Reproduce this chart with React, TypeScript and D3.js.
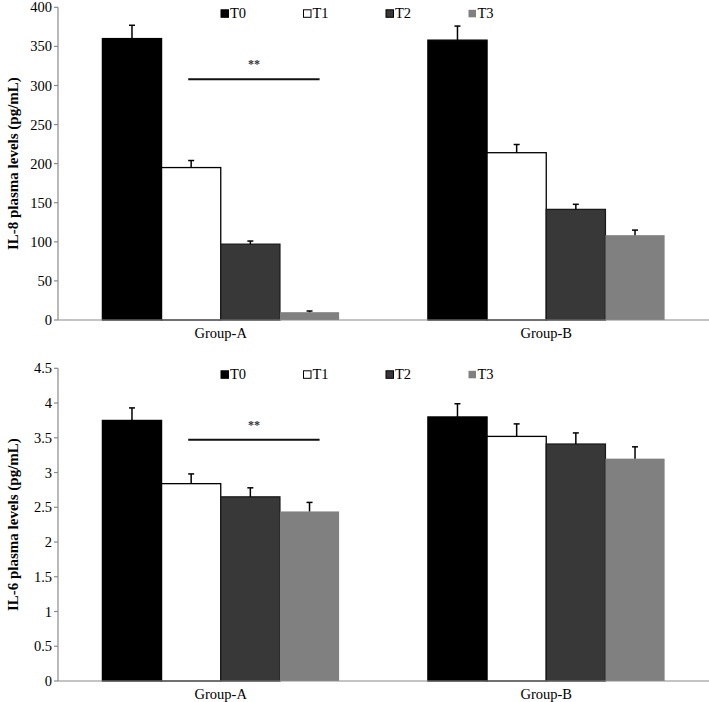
import React from "react";
import * as d3 from "d3";

const groups = ["Group-A", "Group-B"];
const series = ["T0", "T1", "T2", "T3"];

// IL-8 panel
const il8Means = [
  [360, 195, 97, 10],
  [358, 214, 141.5, 108.5],
];
const il8ErrTop = [
  [377, 204, 101, 11.5],
  [376, 224.5, 148, 115],
];
const il8Ticks = [0, 50, 100, 150, 200, 250, 300, 350, 400];

// IL-6 panel
const il6Means = [
  [3.75, 2.84, 2.65, 2.44],
  [3.8, 3.52, 3.41, 3.2],
];
const il6ErrTop = [
  [3.93, 2.98, 2.78, 2.57],
  [3.99, 3.7, 3.57, 3.37],
];
const il6Ticks = [0, 0.5, 1, 1.5, 2, 2.5, 3, 3.5, 4, 4.5];

const fills = ["#000000", "#ffffff", "#383838", "#808080"];
const strokes = ["#000000", "#000000", "#1a1a1a", "none"];

const FONT = '"Liberation Serif", Tinos, "Times New Roman", Times, "DejaVu Serif", serif';
const fontStyle = { fontFamily: FONT };

type PanelProps = {
  top: number;
  bottom: number;
  max: number;
  ticks: number[];
  means: number[][];
  errTop: number[][];
  title: string;
  sigFrom: [number, number];
  sigTo: [number, number];
  sigValue: number;
};

function Panel({ top, bottom, max, ticks, means, errTop, title, sigFrom, sigTo, sigValue }: PanelProps) {
  const x0 = d3.scaleBand<string>().domain(groups).range([58, 709]).padding(0);
  const x1 = d3
    .scaleBand<string>()
    .domain(series)
    .range([0, x0.bandwidth()])
    .paddingInner(0)
    .paddingOuter(0.75);
  const y = d3.scaleLinear().domain([0, max]).range([bottom, top]);
  const bw = x1.bandwidth();
  const axisX = 58;

  const sigX1 = (x0(groups[sigFrom[0]]) ?? 0) + (x1(series[sigFrom[1]]) ?? 0) + bw * 0.45;
  const sigX2 = (x0(groups[sigTo[0]]) ?? 0) + (x1(series[sigTo[1]]) ?? 0) + bw * 0.67;
  const sigY = y(sigValue);

  const legendY = top + 6;
  const legendX0 = 221;
  const legendStep = 82.5;

  return (
    <g style={fontStyle}>
      {groups.map((g, gi) =>
        series.map((s, si) => {
          const bx = (x0(g) ?? 0) + (x1(s) ?? 0);
          const by = y(means[gi][si]);
          return (
            <rect
              key={g + s}
              x={bx}
              y={by}
              width={bw}
              height={y(0) - by}
              fill={fills[si]}
              stroke={strokes[si]}
              strokeWidth={strokes[si] === "none" ? 0 : 1.3}
            />
          );
        })
      )}
      {groups.map((g, gi) =>
        series.map((s, si) => {
          const cx = (x0(g) ?? 0) + (x1(s) ?? 0) + bw / 2;
          const y1 = y(means[gi][si]);
          const y2 = y(errTop[gi][si]);
          return (
            <g key={"e" + g + s} stroke="#000" strokeWidth={1.5}>
              <line x1={cx} x2={cx} y1={y1} y2={y2} />
              <line x1={cx - 3} x2={cx + 3} y1={y2} y2={y2} />
            </g>
          );
        })
      )}
      <line x1={axisX} x2={709} y1={y(0)} y2={y(0)} stroke="#8a8a8a" strokeWidth={1.2} />
      <line x1={axisX} x2={axisX} y1={y(max)} y2={y(0)} stroke="#8a8a8a" strokeWidth={1.2} />
      {ticks.map((t) => (
        <g key={t}>
          <line x1={axisX - 4} x2={axisX} y1={y(t)} y2={y(t)} stroke="#8a8a8a" strokeWidth={1.2} />
          <text x={axisX - 6} y={y(t)} dy="0.35em" textAnchor="end" style={fontStyle} fontSize={14.5} fill="#000">
            {t}
          </text>
        </g>
      ))}
      {groups.map((g) => (
        <text
          key={g}
          x={(x0(g) ?? 0) + x0.bandwidth() / 2}
          y={bottom + 18}
          textAnchor="middle"
          style={fontStyle}
          fontSize={14.5}
          fill="#000"
        >
          {g}
        </text>
      ))}
      <text
        transform={`translate(18, ${(top + bottom) / 2}) rotate(-90)`}
        textAnchor="middle"
        style={fontStyle}
        fontWeight="bold"
        fontSize={15}
        fill="#000"
      >
        {title}
      </text>
      {series.map((s, si) => {
        const lx = legendX0 + si * legendStep;
        return (
          <g key={"l" + s}>
            <rect
              x={lx}
              y={legendY - 3.5}
              width={7.5}
              height={7.5}
              fill={fills[si]}
              stroke={si === 3 ? "none" : "#000"}
              strokeWidth={1}
            />
            <text x={lx + 9} y={legendY + 5} style={fontStyle} fontSize={14.5} fill="#000">
              {s}
            </text>
          </g>
        );
      })}
      <line x1={sigX1} x2={sigX2} y1={sigY} y2={sigY} stroke="#111" strokeWidth={2} />
      <text
        x={(sigX1 + sigX2) / 2}
        y={sigY - 11}
        textAnchor="middle"
        style={fontStyle}
        fontWeight="bold"
        fontSize={12}
        fill="#333"
      >
        **
      </text>
    </g>
  );
}

export default function App() {
  return (
    <svg width={709} height={702} style={{ position: "absolute", left: 0, top: 0, background: "#fff" }}>
      <rect width={709} height={702} fill="#fff" />
      <Panel
        top={7.3}
        bottom={320}
        max={400}
        ticks={il8Ticks}
        means={il8Means}
        errTop={il8ErrTop}
        title="IL-8 plasma levels (pg/mL)"
        sigFrom={[0, 1]}
        sigTo={[0, 3]}
        sigValue={308}
      />
      <Panel
        top={368.3}
        bottom={681}
        max={4.5}
        ticks={il6Ticks}
        means={il6Means}
        errTop={il6ErrTop}
        title="IL-6 plasma levels (pg/mL)"
        sigFrom={[0, 1]}
        sigTo={[0, 3]}
        sigValue={3.47}
      />
    </svg>
  );
}
